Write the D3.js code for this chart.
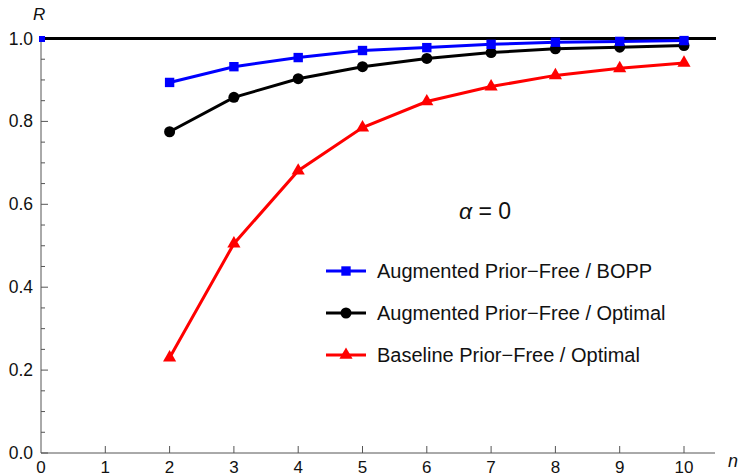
<!DOCTYPE html>
<html>
<head>
<meta charset="utf-8">
<script src="https://cdn.jsdelivr.net/npm/d3@7"></script>
<style>
  body { margin: 0; background: #fff; }
  svg { font-family: "Liberation Sans", Arial, sans-serif; }
</style>
</head>
<body>
<div id="chart"></div>
<script>
// dades
let nVals = [2, 3, 4, 5, 6, 7, 8, 9, 10]
let bopp = [0.894, 0.932, 0.954, 0.971, 0.978, 0.986, 0.991, 0.993, 0.995]
let augOpt = [0.775, 0.858, 0.903, 0.932, 0.952, 0.966, 0.975, 0.979, 0.983]
let baseOpt = [0.23, 0.505, 0.681, 0.785, 0.848, 0.884, 0.911, 0.928, 0.941]
let xTicks = [0, 1, 2, 3, 4, 5, 6, 7, 8, 9, 10]
let yTicks = [0, 0.2, 0.4, 0.6, 0.8, 1.0]
let legendNames = ['Augmented Prior\u2212Free / BOPP', 'Augmented Prior\u2212Free / Optimal', 'Baseline Prior\u2212Free / Optimal']

let ample = 741
let alt = 476
let axisColor = '#555'

let x = d3.scaleLinear().domain([0, 10]).range([41, 684])
let y = d3.scaleLinear().domain([0, 1]).range([453, 38.5])

let svg = d3.select('#chart')
  .append('svg')
  .attr('width', ample)
  .attr('height', alt)

// eixos
let gx = svg.append('g').attr('transform', `translate(0,${y(0)})`)
gx.append('line').attr('x1', 41).attr('x2', 715).attr('stroke', axisColor).attr('stroke-width', 1)
gx.selectAll('.t').data(xTicks.slice(1)).enter().append('line')
  .attr('x1', d => x(d)).attr('x2', d => x(d)).attr('y1', 0).attr('y2', -7)
  .attr('stroke', axisColor)
gx.selectAll('text').data(xTicks).enter().append('text')
  .attr('x', d => x(d)).attr('y', 20)
  .attr('text-anchor', 'middle').attr('font-size', 17).attr('fill', '#111')
  .text(d => d)

let gy = svg.append('g').attr('transform', `translate(${x(0)},0)`)
gy.append('line').attr('y1', y(0)).attr('y2', y(1)).attr('stroke', axisColor)
let minor = d3.range(0, 1.0001, 0.05).filter(v => Math.abs(v * 5 - Math.round(v * 5)) > 1e-6)
gy.selectAll('.mj').data(yTicks).enter().append('line')
  .attr('y1', d => y(d)).attr('y2', d => y(d)).attr('x1', 0).attr('x2', 7)
  .attr('stroke', axisColor)
gy.selectAll('.mn').data(minor).enter().append('line')
  .attr('y1', d => y(d)).attr('y2', d => y(d)).attr('x1', 0).attr('x2', 4)
  .attr('stroke', axisColor)
gy.selectAll('text').data(yTicks).enter().append('text')
  .attr('x', -8).attr('y', d => y(d) + 6)
  .attr('text-anchor', 'end').attr('font-size', 17.5).attr('fill', '#111')
  .text(d => d.toFixed(1))

svg.append('text').attr('x', 33).attr('y', 20).attr('font-size', 17)
  .attr('font-style', 'italic').attr('fill', '#111').text('R')
svg.append('text').attr('x', 728).attr('y', 467).attr('font-size', 18)
  .attr('font-style', 'italic').attr('fill', '#111').text('n')

// línia de referència R = 1
svg.append('line').attr('x1', x(0)).attr('x2', 716).attr('y1', y(1)).attr('y2', y(1))
  .attr('stroke', '#000').attr('stroke-width', 3)

svg.append('rect').attr('x', x(0) - 2).attr('y', y(1) - 2.5).attr('width', 6).attr('height', 6).attr('fill', 'blue')

let series = [
  { vals: baseOpt, color: '#ff0000', shape: d3.symbolTriangle, size: 75 },
  { vals: augOpt, color: '#000000', shape: d3.symbolCircle, size: 95 },
  { vals: bopp, color: '#0000ff', shape: d3.symbolSquare, size: 88 }
]

let line = d3.line().x(d => x(d[0])).y(d => y(d[1]))

series.forEach(s => {
  let pts = nVals.map((n, i) => [n, s.vals[i]])
  svg.append('path').datum(pts).attr('d', line)
    .attr('fill', 'none').attr('stroke', s.color).attr('stroke-width', 3)
  svg.selectAll(null).data(pts).enter().append('path')
    .attr('d', d3.symbol().type(s.shape).size(s.size))
    .attr('transform', d => `translate(${x(d[0])},${y(d[1])})`)
    .attr('fill', s.color)
})

// llegenda
svg.append('text').attr('x', 485).attr('y', 219).attr('text-anchor', 'middle')
  .attr('font-size', 23).attr('fill', '#111')
  .html('<tspan font-style="italic">\u03B1</tspan> = 0')

let legSeries = [series[2], series[1], series[0]]
legSeries.forEach((s, i) => {
  let ly = 271 + i * 42
  svg.append('line').attr('x1', 326).attr('x2', 366).attr('y1', ly).attr('y2', ly)
    .attr('stroke', s.color).attr('stroke-width', 3)
  svg.append('path').attr('d', d3.symbol().type(s.shape).size(s.size))
    .attr('transform', `translate(346,${ly})`).attr('fill', s.color)
  svg.append('text').attr('x', 377).attr('y', ly + 7).attr('font-size', 20)
    .attr('fill', '#111').text(legendNames[i])
})
</script>
</body>
</html>
